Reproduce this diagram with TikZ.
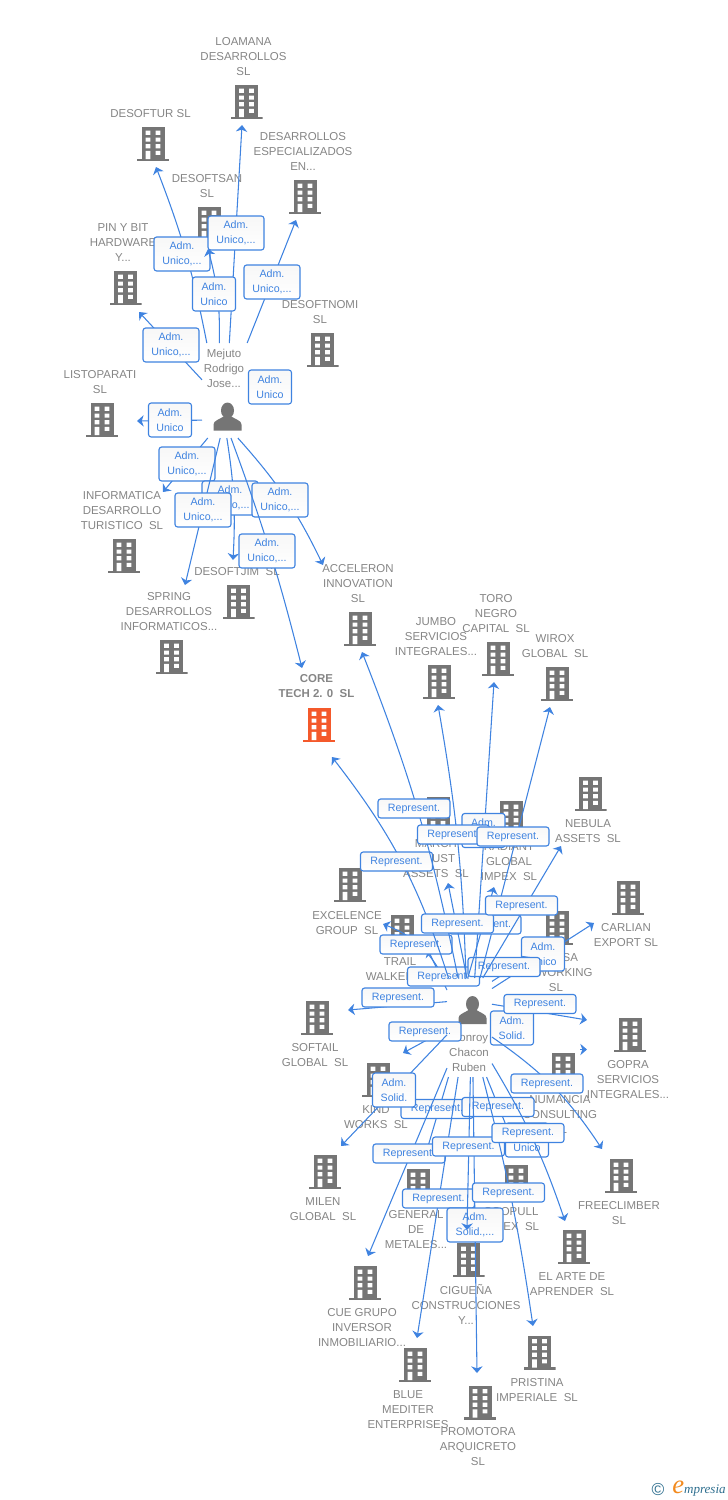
\documentclass[tikz,border=0pt]{standalone}
\usepackage{fontspec}
\setmainfont{Liberation Sans}
\newfontfamily\brandfont{Liberation Serif}
\usetikzlibrary{arrows.meta}
\definecolor{linkblue}{HTML}{3F83E0}
\definecolor{firmgray}{HTML}{757575}
\definecolor{namegray}{HTML}{858585}
\definecolor{coreorange}{HTML}{F4592B}
\definecolor{brandteal}{HTML}{2F6F8F}
\definecolor{brandorange}{HTML}{F28A1E}
\tikzset{
  firm/.style={rectangle,inner sep=0pt,minimum width=24pt,minimum height=25.5pt,
    path picture={\begin{scope}[shift={(path picture bounding box.center)}]
      \fill[#1] (-11.5,-17) rectangle (11.5,15);
      \fill[#1] (-16,14.5) rectangle (16,17);
      \fill[white] (-7.4,-13.4) rectangle (-2.6,-9.2) (2.6,-13.4) rectangle (7.4,-9.2);
      \fill[white] (-7.4,-6.4) rectangle (-2.6,-2.3) (2.6,-6.4) rectangle (7.4,-2.3);
      \fill[white] (-7.4,0.2) rectangle (-2.6,4.3) (2.6,0.2) rectangle (7.4,4.3);
      \fill[white] (-7.4,6.8) rectangle (-2.6,15) (2.6,6.8) rectangle (7.4,10.9);
    \end{scope}}},
  firm/.default=firmgray,
  firmname/.style={inner sep=0pt,yshift=-.4pt,align=center,text=namegray,font=\fontsize{8.6}{11.25}\selectfont},
  hub/.style={rectangle,inner sep=0pt,outer sep=0pt},
  face/.style={rectangle,inner sep=0pt,minimum width=21pt,minimum height=21pt,
    path picture={\begin{scope}[shift={(path picture bounding box.center)}]
      \fill[firmgray] (0,-6) ellipse (6.5 and 8);
      \fill[firmgray] (-14,14) -- (-14,8) .. controls (-14,4) and (-8,3) .. (-4,0)
        -- (4,0) .. controls (8,3) and (14,4) .. (14,8) -- (14,14) -- cycle;
    \end{scope}}},
  tagbox/.style={draw=linkblue,line width=.85pt,rounded corners=2pt,inner sep=0pt,align=center,
    top color=black!3,bottom color=white,text=linkblue,font=\fontsize{8}{11.25}\selectfont},
  repbox/.style={tagbox,minimum width=54pt,minimum height=14.25pt},
  admwide/.style={tagbox,minimum width=42pt,minimum height=25.5pt},
  admslim/.style={tagbox,minimum width=32.25pt,minimum height=25.5pt},
  link/.style={color=linkblue,line width=.8pt,->},
  brand/.style={inner sep=0pt,text=brandteal}
}
\begin{document}
\begin{tikzpicture}[x=.75pt,y=-.75pt,>={Stealth[length=5pt,width=8.5pt,inset=1.5pt]}]
\useasboundingbox (0,0) rectangle (728,1500);
% firms above
\node[firm] (loamana) at (246.5,102) {};
\node[firmname] (loamanaName) at (243.5,56) {LOAMANA\\DESARROLLOS\\SL};
\node[firm] (desoftur) at (153,144) {};
\node[firmname] (desofturName) at (150.5,113) {DESOFTUR SL};
\node[firm] (especial) at (305,197) {};
\node[firmname] (especialName) at (303,151) {DESARROLLOS\\ESPECIALIZADOS\\EN...};
\node[firm] (desoftsan) at (209,224) {};
\node[firmname] (desoftsanName) at (207,185.5) {DESOFTSAN\\SL};
\node[firm] (pinybit) at (125.5,288) {};
\node[firmname] (pinybitName) at (123,242) {PIN Y BIT\\HARDWARE\\Y...};
\node[firm] (desoftnomi) at (322.5,350) {};
\node[firmname] (desoftnomiName) at (320,311.5) {DESOFTNOMI\\SL};
\node[firm] (listoparati) at (102,420) {};
\node[firmname] (listoparatiName) at (100,381.5) {LISTOPARATI\\SL};
\node[firm] (informatica) at (124,556) {};
\node[firmname] (informaticaName) at (122,510) {INFORMATICA\\DESARROLLO\\TURISTICO~~SL};
\node[firm] (spring) at (171.5,657) {};
\node[firmname] (springName) at (169,611) {SPRING\\DESARROLLOS\\INFORMATICOS...};
\node[firm] (desoftjim) at (238.5,602) {};
\node[firmname] (desoftjimName) at (237,571) {DESOFTJIM~~SL};
\node[firm] (acceleron) at (360,629) {};
\node[firmname] (acceleronName) at (358,583) {ACCELERON\\INNOVATION\\SL};
\node[firm=coreorange] (core) at (319,725) {};
\node[firmname,font=\fontsize{8.6}{11.25}\selectfont\bfseries] (coreName) at (316.5,685.5) {CORE\\TECH 2. 0~~SL};
% firms below
\node[firm] (jumbo) at (439,682) {};
\node[firmname] (jumboName) at (436,636) {JUMBO\\SERVICIOS\\INTEGRALES...};
\node[firm] (toro) at (498,659) {};
\node[firmname] (toroName) at (496,613) {TORO\\NEGRO\\CAPITAL~~SL};
\node[firm] (wirox) at (557,684) {};
\node[firmname] (wiroxName) at (555,645.5) {WIROX\\GLOBAL~~SL};
\node[firm] (nebula) at (590.5,794) {};
\node[firmname] (nebulaName) at (588,830.5) {NEBULA\\ASSETS~~SL};
\node[firm] (carlian) at (628,898) {};
\node[firmname] (carlianName) at (626,934.5) {CARLIAN\\EXPORT SL};
\node[firm] (march) at (438,814) {};
\node[firmname] (marchName) at (436,858) {MARCH\\TRUST\\ASSETS~~SL};
\node[firm] (radiant) at (511,818) {};
\node[firmname] (radiantName) at (509,861) {RADIANT\\GLOBAL\\IMPEX~~SL};
\node[firm] (excelence) at (350,885) {};
\node[firmname] (excelenceName) at (347,922.5) {EXCELENCE\\GROUP~~SL};
\node[firm] (trail) at (402,932) {};
\node[firmname] (trailName) at (400,968.5) {TRAIL\\WALKER~~SL};
\node[firm] (marisa) at (557,928) {};
\node[firmname] (marisaName) at (556,972) {MARISA\\COWORKING\\SL};
\node[firm] (softail) at (317,1018) {};
\node[firmname] (softailName) at (315,1054.5) {SOFTAIL\\GLOBAL~~SL};
\node[firm] (gopra) at (630,1035) {};
\node[firmname] (gopraName) at (628,1079) {GOPRA\\SERVICIOS\\INTEGRALES...};
\node[firm] (numancia) at (563,1070) {};
\node[firmname] (numanciaName) at (560,1114) {NUMANCIA\\CONSULTING\\SL};
\node[firm] (kind) at (378,1080) {};
\node[firmname] (kindName) at (376,1116.5) {KIND\\WORKS~~SL};
\node[firm] (milen) at (325,1172) {};
\node[firmname] (milenName) at (323,1208.5) {MILEN\\GLOBAL~~SL};
\node[firm] (freeclimber) at (621,1176) {};
\node[firmname] (freeclimberName) at (619,1212.5) {FREECLIMBER\\SL};
\node[firm] (general) at (418,1186) {};
\node[firmname] (generalName) at (416,1229) {GENERAL\\DE\\METALES...};
\node[firm] (coopull) at (516,1182) {};
\node[firmname] (coopullName) at (511,1218.5) {COOPULL\\IMPEX~~SL};
\node[firm] (arte) at (574,1247) {};
\node[firmname] (arteName) at (572,1283.5) {EL ARTE DE\\APRENDER~~SL};
\node[firm] (ciguena) at (468.5,1260) {};
\node[firmname] (ciguenaName) at (466,1304) {CIGUEÑA\\CONSTRUCCIONES\\Y...};
\node[firm] (cue) at (365,1283) {};
\node[firmname] (cueName) at (362,1327) {CUE GRUPO\\INVERSOR\\INMOBILIARIO...};
\node[firm] (blue) at (415,1365) {};
\node[firmname] (blueName) at (408,1409) {BLUE\\MEDITER\\ENTERPRISES};
\node[firm] (promotora) at (480,1402.5) {};
\node[firmname] (promotoraName) at (478,1446) {PROMOTORA\\ARQUICRETO\\SL};
\node[firm] (pristina) at (539.5,1352.5) {};
\node[firmname] (pristinaName) at (537,1389.5) {PRISTINA\\IMPERIALE~~SL};
% people
\node[hub,minimum width=36pt,minimum height=71.25pt] (mejuto) at (226,390.5) {};
\node[face] (mejutoFace) at (227.5,416.5) {};
\node[firmname] (mejutoName) at (224,368) {Mejuto\\Rodrigo\\Jose...};
\node[hub,minimum width=33.75pt,minimum height=74.25pt] (monroy) at (469.5,1027.5) {};
\node[face] (monroyFace) at (472.5,1010) {};
\node[firmname] (monroyName) at (469,1052) {Monroy\\Chacon\\Ruben};
% arrow ends
\coordinate (loamanaTip) at (242,125);
\coordinate (desofturTip) at (156,167);
\coordinate (especialTip) at (296,220);
\coordinate (desoftsanTip) at (208,249);
\coordinate (pinybitTip) at (139,312);
\coordinate (listoparatiTip) at (137,421);
\coordinate (informaticaTip) at (163,492);
\coordinate (springTip) at (185,585);
\coordinate (desoftjimTip) at (233,560);
\coordinate (acceleronTip) at (323,565);
\coordinate (coreTip) at (302,668);
\coordinate (coreEnd) at (332,757);
\coordinate (acceleronEnd) at (362,652);
\coordinate (jumboTip) at (438,705);
\coordinate (toroTip) at (494,682);
\coordinate (wiroxTip) at (550,707);
\coordinate (nebulaTip) at (561,846);
\coordinate (carlianTip) at (594,923);
\coordinate (marchTip) at (448,883);
\coordinate (radiantTip) at (494,887);
\coordinate (excelenceTip) at (383,924);
\coordinate (trailTip) at (428,950);
\coordinate (marisaTip) at (530,957);
\coordinate (softailTip) at (348,1010);
\coordinate (gopraTip) at (587,1020);
\coordinate (stubFrom) at (580,1049.5);
\coordinate (stubTip) at (587,1049.5);
\coordinate (kindTip) at (403,1053);
\coordinate (milenTip) at (341,1146);
\coordinate (freeclimberTip) at (602,1149);
\coordinate (generalTip) at (424,1160);
\coordinate (coopullTip) at (514,1145);
\coordinate (arteTip) at (565,1221);
\coordinate (ciguenaTip) at (467,1230);
\coordinate (cueTip) at (368,1256);
\coordinate (blueTip) at (417,1338);
\coordinate (promotoraTip) at (477,1373);
\coordinate (pristinaTip) at (533,1326);
% Mejuto
\path[link] (mejuto.112) edge[bend right=5] (desofturTip);
\node[admwide] (r1) at (182,254) {Adm.\\Unico,...};
\path[link] (mejuto.86) edge (loamanaTip);
\node[admwide] (r2) at (236,233) {Adm.\\Unico,...};
\path[link] (mejuto.98) edge[bend right=8] (desoftsanTip);
\node[admslim] (r3) at (214,294) {Adm.\\Unico};
\path[link] (mejuto.66) edge (especialTip);
\node[admwide] (r4) at (272,282) {Adm.\\Unico,...};
\path[link] (mejuto.156) edge (pinybitTip);
\node[admwide] (r5) at (171,345) {Adm.\\Unico,...};
\node[admslim] (r6) at (270,387) {Adm.\\Unico};
\path[link] (mejuto.231) edge (listoparatiTip);
\node[admslim] (r7) at (170,420) {Adm.\\Unico};
\path[link] (mejuto.249) edge (informaticaTip);
\node[admwide] (r8) at (187,464) {Adm.\\Unico,...};
\path[link] (mejuto.271) edge[bend left=6] (desoftjimTip);
\node[admwide] (r9) at (230,498) {Adm.\\Unico,...};
\path[link] (mejuto.263) edge (springTip);
\node[admwide] (r10) at (203,510) {Adm.\\Unico,...};
\path[link] (mejuto.284) edge[bend left=8] (acceleronTip);
\node[admwide] (r11) at (280,500) {Adm.\\Unico,...};
\path[link] (mejuto.276) edge[bend left=3] (coreTip);
\node[admwide] (r12) at (267,551) {Adm.\\Unico,...};
% Monroy, upwards
\path[link] (monroy.121) edge (trailTip);
\path[link] (monroy.118) edge[bend right=22] (excelenceTip);
\node[repbox] (s1) at (416,944.5) {Represent.};
\path[link] (monroy.60) edge (carlianTip);
\node[admslim] (s2) at (543,954) {Adm.\\Unico};
\path[link] (monroy.64) edge (marisaTip);
\node[repbox] (s3) at (443.5,976.5) {Represent.};
\node[repbox] (s4) at (504,967) {Represent.};
\path[link] (monroy.113) edge[bend right=10] (coreEnd);
\node[repbox] (s5) at (396.5,861.5) {Represent.};
\path[link] (monroy.103) edge[bend right=5] (acceleronEnd);
\node[repbox] (s6) at (414,808.5) {Represent.};
\path[link] (monroy.84) edge (toroTip);
\node[admslim] (s7) at (483.5,830.5) {Adm.\\Unico};
\path[link] (monroy.94) edge[bend right=4] (jumboTip);
\node[repbox] (s8) at (453.5,834.5) {Represent.};
\path[link] (monroy.78) edge (wiroxTip);
\node[repbox] (s9) at (513,836.5) {Represent.};
\path[link] (monroy.92) edge (radiantTip);
\node[repbox] (s10) at (485,924.5) {Represent.};
\path[link] (monroy.93) edge (marchTip);
\node[repbox] (s11) at (457.5,923.5) {Represent.};
\path[link] (monroy.75) edge (nebulaTip);
\node[repbox] (s12) at (521.5,905.5) {Represent.};
% Monroy, sideways
\path[link] (monroy.131) edge (softailTip);
\node[repbox] (s13) at (398,997.5) {Represent.};
\node[admslim] (s14) at (512,1028) {Adm.\\Solid.};
\path[link] (monroy.46) edge (gopraTip);
\node[repbox] (s15) at (540,1004) {Represent.};
\path[link] (stubFrom) edge (stubTip);
\path[link] (monroy.337) edge[bend left=11] (freeclimberTip);
\node[repbox] (s16) at (547,1083.5) {Represent.};
\path[link] (monroy.184) edge (kindTip);
\node[repbox] (s17) at (425,1031.5) {Represent.};
% Monroy, downwards
\path[link] (monroy.247) edge (generalTip);
\node[repbox] (s18) at (437,1109) {Represent.};
\path[link] (monroy.198) edge (milenTip);
\node[admslim] (s19) at (394,1090) {Adm.\\Solid.};
\path[link] (monroy.289) edge (coopullTip);
\node[repbox] (s20) at (498,1107) {Represent.};
\path[link] (monroy.241) edge (cueTip);
\node[repbox] (s21) at (409,1153.5) {Represent.};
\path[link] (monroy.257) edge (blueTip);
\node[repbox] (s22) at (438.5,1198.5) {Represent.};
\path[link] (monroy.274) edge (promotoraTip);
\node[admwide] (s23) at (475,1225) {Adm.\\Solid.,...};
\path[link] (monroy.271) edge (ciguenaTip);
\node[repbox] (s24) at (468.5,1146.5) {Represent.};
\node[admslim] (s25) at (527,1140) {Adm.\\Unico};
\path[link] (monroy.285) edge[bend left=3] (pristinaTip);
\node[repbox] (s26) at (508.5,1192.5) {Represent.};
\path[link] (monroy.302) edge[bend left=6] (arteTip);
\node[repbox] (s27) at (528,1133) {Represent.};
% logo
\node[brand,font=\fontsize{13}{13}\selectfont] (brandMark) at (658,1489) {©};
\node[brand,font=\brandfont\fontsize{9.8}{10}\selectfont\itshape,anchor=base west] (brandName) at (672,1493)
  {{\color{brandorange}\fontsize{20}{20}\selectfont e}mpresia};
\end{tikzpicture}
\end{document}
